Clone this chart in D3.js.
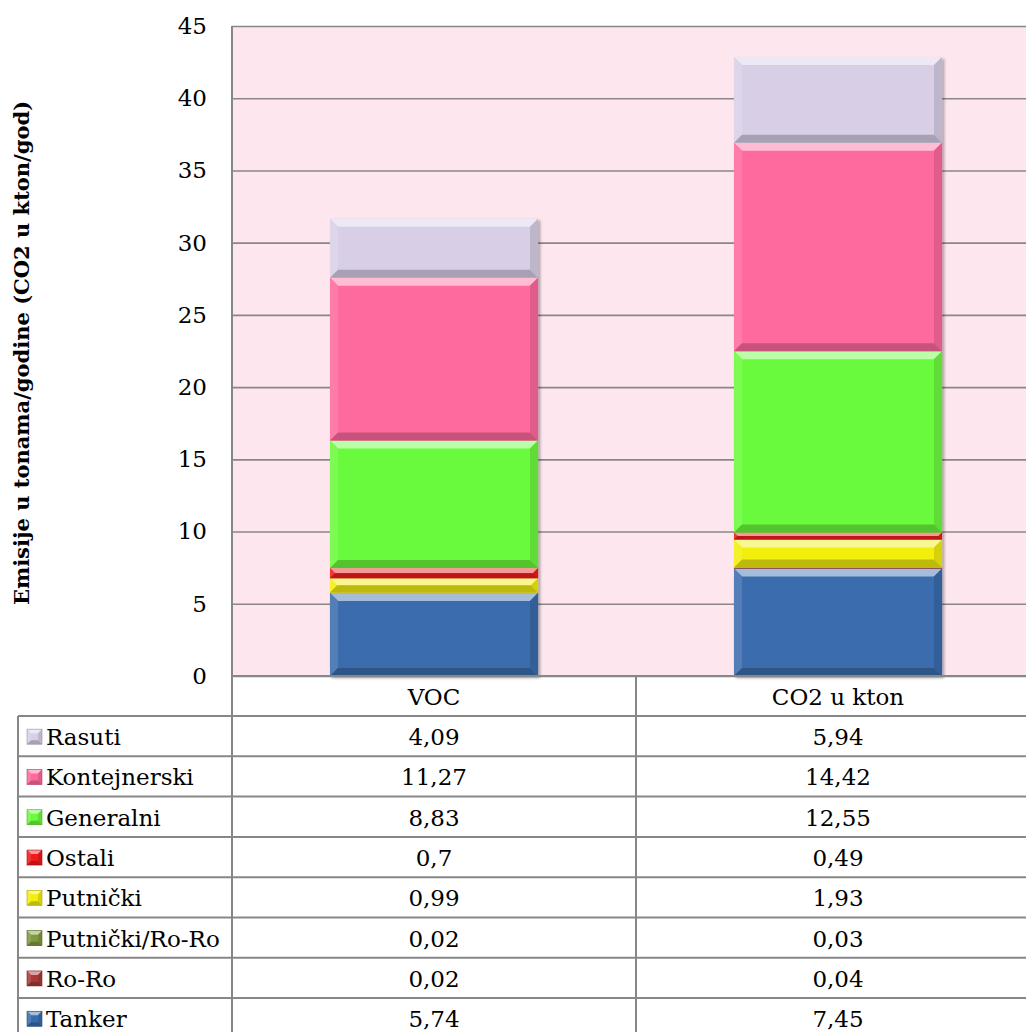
<!DOCTYPE html>
<html>
<head>
<meta charset="utf-8">
<script src="https://cdn.jsdelivr.net/npm/d3@7"></script>
<style>
  html, body { margin: 0; padding: 0; background: #ffffff; }
  svg { display: block; }
</style>
</head>
<body>
<svg id="chart" width="1026" height="1032"></svg>
<script>
// ---- data ----
const categories = ["VOC", "CO2 u kton"];
const seriesNames = ["Tanker", "Ro-Ro", "Putnički/Ro-Ro", "Putnički", "Ostali", "Generalni", "Kontejnerski", "Rasuti"];
const vocValues = [5.74, 0.02, 0.02, 0.99, 0.7, 8.83, 11.27, 4.09];
const co2Values = [7.45, 0.04, 0.03, 1.93, 0.49, 12.55, 14.42, 5.94];
const seriesColors = ["#3a6cad", "#a83a3a", "#7f9a3e", "#f2ee0c", "#f21a1a", "#6bfa3c", "#ff6a9e", "#d8cfe6"];
const yTicks = [0, 5, 10, 15, 20, 25, 30, 35, 40, 45];
const yTitle = "Emisije u tonama/godine (CO2 u kton/god)";

// ---- layout ----
const FONT = "'DejaVu Serif', 'Liberation Serif', serif";
const FS = 23;
const plot = { left: 232, right: 1040, top: 26, bottom: 676 };
const tableLeft = 18;
const headerH = 40;
const rowH = 40.3;
const gridColor = "#878787";

const svg = d3.select("#chart");
const defs = svg.append("defs");
const f = defs.append("filter").attr("id", "shadow").attr("x", "-10%").attr("y", "-10%").attr("width", "120%").attr("height", "120%");
f.append("feDropShadow").attr("dx", 2).attr("dy", 2).attr("stdDeviation", 1.5)
  .attr("flood-color", "#000").attr("flood-opacity", 0.35);

const x = d3.scaleBand().domain(categories).range([plot.left, plot.right]).padding(0);
const y = d3.scaleLinear().domain([0, 45]).range([plot.bottom, plot.top]);
const barFrac = 0.515;

// plot background
svg.append("rect")
  .attr("x", plot.left).attr("y", plot.top)
  .attr("width", plot.right - plot.left).attr("height", plot.bottom - plot.top)
  .attr("fill", "#fde6ee");

// grid lines
const grid = svg.append("g").attr("transform", `translate(${plot.left},0)`)
  .call(d3.axisLeft(y).tickValues(yTicks).tickSize(-(plot.right - plot.left)).tickFormat(""));
grid.select(".domain").remove();
grid.selectAll(".tick line").attr("stroke", gridColor).attr("stroke-width", 1.6);

// y tick labels
const yAxis = svg.append("g").attr("transform", `translate(${plot.left},0)`)
  .call(d3.axisLeft(y).tickValues(yTicks).tickSize(0).tickPadding(25));
yAxis.select(".domain").remove();
yAxis.selectAll("text").attr("font-family", FONT).attr("font-size", FS).attr("fill", "#000");

// left axis line
svg.append("line").attr("x1", plot.left).attr("x2", plot.left)
  .attr("y1", plot.top).attr("y2", 1032).attr("stroke", gridColor).attr("stroke-width", 2);

// y title
svg.append("text")
  .attr("transform", `translate(29,${(plot.top + plot.bottom) / 2 + 2}) rotate(-90)`)
  .attr("text-anchor", "middle")
  .attr("font-family", FONT).attr("font-weight", "bold").attr("font-size", 21)
  .text(yTitle);

// bevel drawing
function bevel(g, bx, by, bw, bh, color, size) {
  if (bh <= 0.01) return;
  const b = Math.min(size, bh / 2, bw / 2);
  const c = d3.color(color);
  const light = d3.interpolateRgb(c, "#ffffff");
  const dark = d3.interpolateRgb(c, "#000000");
  g.append("rect").attr("x", bx).attr("y", by).attr("width", bw).attr("height", bh).attr("fill", color);
  const poly = (pts, fill) => g.append("polygon").attr("points", pts.map(p => p.join(",")).join(" ")).attr("fill", fill);
  poly([[bx, by], [bx + bw, by], [bx + bw - b, by + b], [bx + b, by + b]], light(0.55));
  poly([[bx, by], [bx + b, by + b], [bx + b, by + bh - b], [bx, by + bh]], light(0.12));
  poly([[bx + bw, by], [bx + bw - b, by + b], [bx + bw - b, by + bh - b], [bx + bw, by + bh]], dark(0.12));
  poly([[bx, by + bh], [bx + bw, by + bh], [bx + bw - b, by + bh - b], [bx + b, by + bh - b]], dark(0.22));
}

// stacked bars
const valuesByCat = [vocValues, co2Values];
categories.forEach((cat, ci) => {
  const step = x.bandwidth();
  const bw = step * barFrac;
  const bx = x(cat) + (step - bw) / 2;
  const g = svg.append("g").attr("filter", "url(#shadow)");
  let cum = 0;
  valuesByCat[ci].forEach((v, si) => {
    const y0 = y(cum), y1 = y(cum + v);
    bevel(g, bx, y1, bw, y0 - y1, seriesColors[si], 8);
    cum += v;
  });
});

// ---- data table ----
const table = svg.append("g");
const rows = seriesNames.map((name, i) => ({ name, color: seriesColors[i], voc: vocValues[i], co2: co2Values[i] })).reverse();
const tableBottom = plot.bottom + headerH + rows.length * rowH;
const fmt = v => String(v).replace(".", ",");

// horizontal lines
table.append("line").attr("x1", plot.left).attr("x2", 1026).attr("y1", plot.bottom).attr("y2", plot.bottom)
  .attr("stroke", gridColor).attr("stroke-width", 2);
for (let i = 0; i <= rows.length; i++) {
  const ly = plot.bottom + headerH + i * rowH;
  table.append("line").attr("x1", tableLeft).attr("x2", 1026).attr("y1", ly).attr("y2", ly)
    .attr("stroke", gridColor).attr("stroke-width", 2);
}
// vertical lines
table.append("line").attr("x1", tableLeft).attr("x2", tableLeft).attr("y1", plot.bottom + headerH).attr("y2", tableBottom)
  .attr("stroke", gridColor).attr("stroke-width", 2);
categories.forEach(cat => {
  const vx = x(cat) + x.bandwidth();
  table.append("line").attr("x1", vx).attr("x2", vx).attr("y1", plot.bottom).attr("y2", tableBottom)
    .attr("stroke", gridColor).attr("stroke-width", 2);
});

// header
categories.forEach(cat => {
  table.append("text").attr("x", x(cat) + x.bandwidth() / 2).attr("y", plot.bottom + headerH / 2 + 1)
    .attr("text-anchor", "middle").attr("dominant-baseline", "central")
    .attr("font-family", FONT).attr("font-size", FS).text(cat);
});

// rows
rows.forEach((r, i) => {
  const cy = plot.bottom + headerH + i * rowH + rowH / 2 + 1;
  const mg = table.append("g");
  bevel(mg, 27, cy - 8, 15, 15, r.color, 4);
  mg.append("rect").attr("x", 27).attr("y", cy - 8).attr("width", 15).attr("height", 15)
    .attr("fill", "none").attr("stroke", d3.interpolateRgb(r.color, "#000")(0.3)).attr("stroke-width", 0.6);
  table.append("text").attr("x", 46).attr("y", cy)
    .attr("dominant-baseline", "central")
    .attr("font-family", FONT).attr("font-size", FS).text(r.name);
  [r.voc, r.co2].forEach((v, ci) => {
    const cat = categories[ci];
    table.append("text").attr("x", x(cat) + x.bandwidth() / 2).attr("y", cy)
      .attr("text-anchor", "middle").attr("dominant-baseline", "central")
      .attr("font-family", FONT).attr("font-size", FS).text(fmt(v));
  });
});
</script>
</body>
</html>
